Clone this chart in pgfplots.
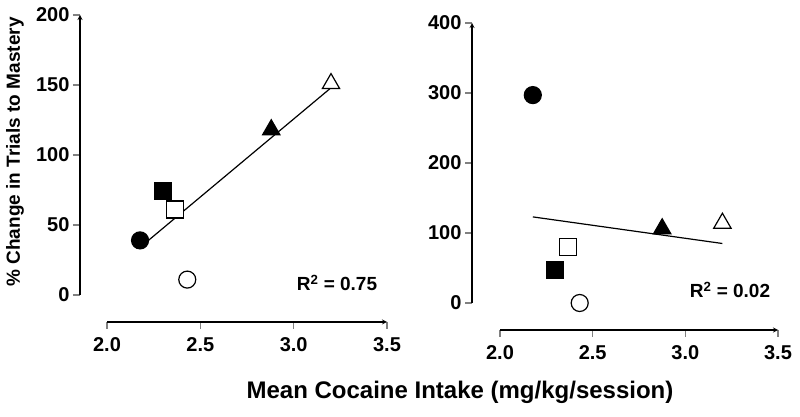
\documentclass[border=0pt]{standalone}
\usepackage{fontspec}
\setmainfont{Liberation Sans}
\usepackage{pgfplots}
\pgfplotsset{compat=1.18}

\pgfplotsset{
  prism/.style={
    scale only axis, anchor=south west,
    axis x line=bottom, axis y line=left,
    xmin=2, xmax=3.5, xtick={2,2.5,3,3.5},
    xticklabel style={/pgf/number format/fixed, /pgf/number format/fixed zerofill, /pgf/number format/precision=1},
    tick align=outside, major tick length=7pt,
    ticklabel style={font=\fontsize{20}{22}\selectfont\bfseries},
    /pgf/number format/assume math mode=true,
    clip=false,
  },
  xoff/.style={
    x axis line style={yshift=-#1, line width=1.2pt},
    xtick style={yshift=-#1, line width=1.2pt},
    xticklabel style={yshift=-#1-5pt},
  },
  yoff/.style={
    y axis line style={xshift=-#1, line width=1.2pt},
    ytick style={xshift=-#1, line width=1.2pt},
    yticklabel style={xshift=-#1},
  },
  every outer x axis line/.append style={-},
  every outer y axis line/.append style={-},
  fc/.style={only marks, mark=*, mark size=8.5pt, mark options={fill=black, draw=black, line width=1.2pt}},
  oc/.style={only marks, mark=*, mark size=8.5pt, mark options={fill=white, draw=black, line width=1.2pt}},
  fs/.style={only marks, mark=square*, mark size=8.5pt, mark options={fill=black, draw=black, line width=1.2pt}},
  os/.style={only marks, mark=square*, mark size=8.5pt, mark options={fill=white, draw=black, line width=1.2pt}},
  ft/.style={only marks, mark=triangle*, mark size=10pt, mark options={fill=black, draw=black, line width=1.2pt}},
  ot/.style={only marks, mark=triangle*, mark size=10pt, mark options={fill=white, draw=black, line width=1.2pt}},
  fitline/.style={no marks, black, line width=1.2pt},
}

\begin{document}
\begin{tikzpicture}
\path[use as bounding box] (0pt,0pt) rectangle (800pt,417pt);

% left panel
\begin{axis}[prism, at={(107pt,122pt)}, width=280pt, height=280pt,
  ymin=0, ymax=200, ytick={0,50,100,150,200},
  xoff=27pt, yoff=27pt]
  \addplot[fitline] coordinates {(2.177,34) (3.2,148)};
  \addplot[fc] coordinates {(2.177,39)};
  \addplot[fs] coordinates {(2.30,74)};
  \addplot[os] coordinates {(2.366,61)};
  \addplot[oc] coordinates {(2.43,11)};
  \addplot[ft] coordinates {(2.88,118)};
  \addplot[ot] coordinates {(3.20,151)};
\end{axis}

% right panel
\begin{axis}[prism, at={(500pt,114pt)}, width=278pt, height=280pt,
  ymin=0, ymax=400, ytick={0,100,200,300,400},
  xoff=27pt, yoff=28pt]
  \addplot[fitline] coordinates {(2.177,123) (3.2,85)};
  \addplot[fc] coordinates {(2.177,297)};
  \addplot[fs] coordinates {(2.295,47)};
  \addplot[os] coordinates {(2.366,80)};
  \addplot[oc] coordinates {(2.43,0)};
  \addplot[ft] coordinates {(2.875,106)};
  \addplot[ot] coordinates {(3.20,114)};
\end{axis}

\node[font=\fontsize{19}{22}\selectfont\bfseries] at (337pt,134pt) {R$^{\mathbf{2}}$ = 0.75};
\node[font=\fontsize{19}{22}\selectfont\bfseries] at (730pt,127pt) {R$^{\mathbf{2}}$ = 0.02};
\node[rotate=90, font=\fontsize{19}{22}\selectfont\bfseries] at (15pt,265pt) {\% Change in Trials to Mastery};
\node[font=\fontsize{24}{26}\selectfont\bfseries] at (460pt,25pt) {Mean Cocaine Intake (mg/kg/session)};
\end{tikzpicture}
\end{document}
